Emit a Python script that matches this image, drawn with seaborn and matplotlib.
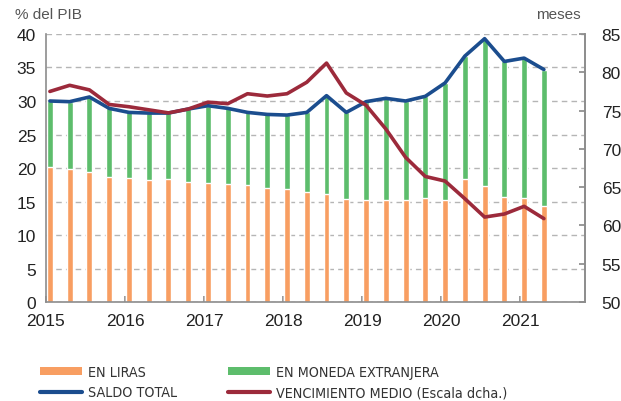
import matplotlib
matplotlib.use("Agg")
import matplotlib.pyplot as plt
import seaborn as sns
import numpy as np
import pandas as pd
from matplotlib.patches import Patch
from matplotlib.lines import Line2D
from matplotlib import font_manager

# ---- data ----
quarters = [f"{y}-T{q}" for y in range(2015, 2022) for q in range(1, 5)][:26]
en_liras = [20.1, 19.8, 19.4, 18.7, 18.5, 18.2, 18.3, 17.9, 17.8, 17.6, 17.5, 17.0, 16.8,
            16.4, 16.1, 15.4, 15.2, 15.2, 15.2, 15.5, 15.3, 18.4, 17.3, 15.7, 15.5, 14.3]
saldo_total = [30.0, 29.9, 30.6, 28.9, 28.3, 28.2, 28.2, 28.8, 29.3, 28.9, 28.3, 28.0, 27.9,
               28.3, 30.8, 28.3, 29.9, 30.4, 30.0, 30.7, 32.7, 36.7, 39.3, 35.9, 36.4, 34.7]
en_moneda_extranjera = [t - l for t, l in zip(saldo_total, en_liras)]
vencimiento_medio = [77.5, 78.3, 77.7, 75.8, 75.5, 75.1, 74.7, 75.2, 76.1, 75.9, 77.2, 76.9, 77.2,
                     78.7, 81.2, 77.3, 75.7, 72.6, 68.9, 66.4, 65.8, 63.5, 61.1, 61.5, 62.5, 60.9]
year_ticks = [2015, 2016, 2017, 2018, 2019, 2020, 2021]

ORANGE = "#F89E62"
GREEN = "#5DBD6C"
BLUE = "#1B4D8E"
RED = "#9C2A3B"
GRAY = "#555555"

xpos = [int(q[:4]) + (int(q[-1]) - 1) * 0.25 + 0.05 for q in quarters]
df = pd.DataFrame({"x": xpos, "liras": en_liras, "total": saldo_total,
                   "venc": vencimiento_medio})

sns.set_theme(style="white")
plt.rcParams["font.family"] = ["Liberation Sans", "DejaVu Sans"]

fig = plt.figure(figsize=(6.21, 4.02), dpi=100)
ax = fig.add_axes([0.074, 0.246, 0.868, 0.667])

# stacked bars: total (green) then liras (orange) on top
sns.barplot(data=df, x="x", y="total", native_scale=True, color=GREEN, saturation=1,
            width=0.3, errorbar=None, ax=ax, zorder=2)
sns.barplot(data=df, x="x", y="liras", native_scale=True, color=ORANGE, saturation=1,
            width=0.3, errorbar=None, ax=ax, zorder=2)
sns.lineplot(data=df, x="x", y="total", color=BLUE, lw=2.6, ax=ax, zorder=4)

ax.set_xlim(2015, 2021.82)
ax.set_ylim(0, 40)
ax.set_yticks(range(0, 41, 5))
ax.set_xticks(year_ticks)
ax.set_xticklabels([str(y) for y in year_ticks])
ax.set_xlabel("")
ax.set_ylabel("")
ax.yaxis.grid(True, linestyle=(0, (4, 3)), color="#B5B5B5", lw=1.0, zorder=0)
ax.set_axisbelow(True)
ax.spines["top"].set_visible(False)
for s in ["left", "bottom", "right"]:
    ax.spines[s].set_color("#8C8C8C")
    ax.spines[s].set_linewidth(1.2)
ax.tick_params(axis="y", labelsize=12.5, labelcolor="#222222", length=0, pad=7)
ax.tick_params(axis="x", labelsize=12.5, labelcolor="#222222", length=4, direction="in",
               color="#8C8C8C", pad=8, bottom=True)

ax2 = ax.twinx()
sns.lineplot(data=df, x="x", y="venc", color=RED, lw=2.6, ax=ax2, zorder=4)
ax2.set_ylim(50, 85)
ax2.set_yticks(range(50, 86, 5))
ax2.set_ylabel("")
ax2.set_xlim(2015, 2021.82)
for s in ["top", "left", "bottom"]:
    ax2.spines[s].set_visible(False)
ax2.spines["right"].set_color("#8C8C8C")
ax2.spines["right"].set_linewidth(1.2)
ax2.tick_params(axis="y", labelsize=12.5, labelcolor="#222222", length=4, direction="in",
                color="#8C8C8C", pad=12, right=True)

fig.text(0.024, 0.945, "% del PIB", fontsize=11, color=GRAY, ha="left", va="bottom")
fig.text(0.935, 0.945, "meses", fontsize=11, color=GRAY, ha="right", va="bottom")

leg_font = font_manager.FontProperties(family="DejaVu Sans", stretch="condensed", size=10.3)
common = dict(frameon=False, handlelength=2.95, handleheight=0.55, handletextpad=0.42,
              labelspacing=0.45, prop=leg_font, loc="center left", borderaxespad=0,
              borderpad=0)
leg1 = fig.legend([Patch(facecolor=ORANGE, edgecolor="none"),
                   Line2D([], [], color=BLUE, lw=3)],
                  ["EN LIRAS", "SALDO TOTAL"],
                  bbox_to_anchor=(0.064, 0.047), **common)
leg2 = fig.legend([Patch(facecolor=GREEN, edgecolor="none"),
                   Line2D([], [], color=RED, lw=3)],
                  ["EN MONEDA EXTRANJERA", "VENCIMIENTO MEDIO (Escala dcha.)"],
                  bbox_to_anchor=(0.367, 0.047), **common)
for lg in (leg1, leg2):
    for t in lg.get_texts():
        t.set_color("#333333")

fig.savefig("out.png", dpi=100)
